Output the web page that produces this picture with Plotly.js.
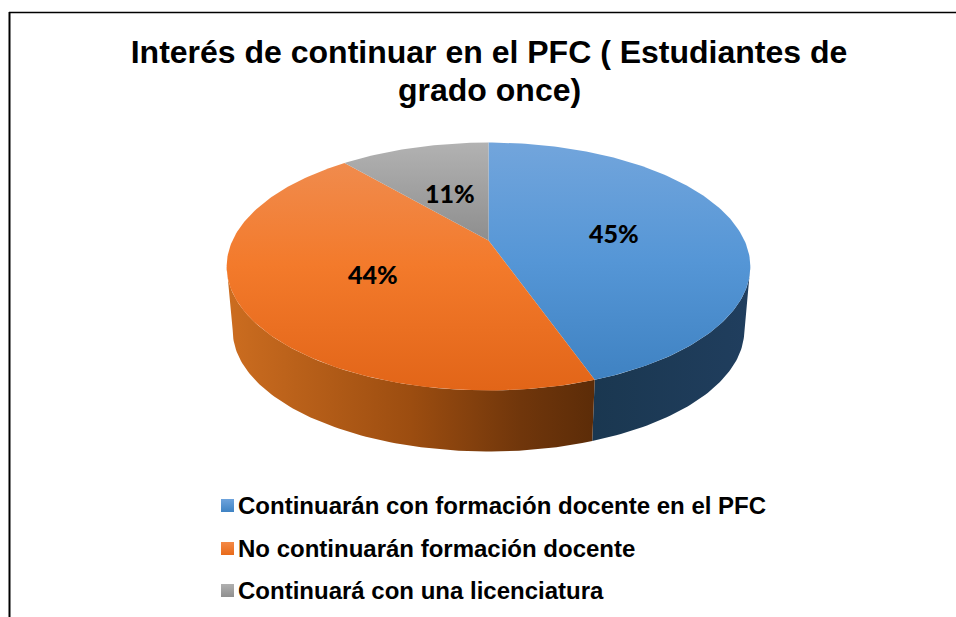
<!DOCTYPE html>
<html>
<head>
<meta charset="utf-8">
<script src="https://cdn.plot.ly/plotly-3.0.1.min.js"></script>
<style>html,body{margin:0;padding:0;background:#fff}#chart{width:956px;height:617px}</style>
</head>
<body>
<div id="chart"></div>
<script>
// Data
var categories = ["Continuarán con formación docente en el PFC", "No continuarán formación docente", "Continuará con una licenciatura"];
var values = [44.6, 44.1, 11.3];
var titleLine1 = "Interés de continuar en el PFC ( Estudiantes de";
var titleLine2 = "grado once)";

// Styles (top faces: first stop is the lower edge)
var topGradients = [
  [[0, "#3f82c2"], [0.5, "#5596d6"], [1, "#72a5dc"]],
  [[0, "#e26518"], [0.55, "#f37a2b"], [1, "#f08b4d"]],
  [[0, "#8e8e8e"], [1, "#b2b2b2"]]
];
var sideGradients = [
  [[0, "#1a3750"], [1, "#203e5e"]],
  [[0, "#cc6d20"], [0.5, "#9c4d10"], [0.8, "#70360b"], [1, "#5c2c08"]]
];
var swatchColors = [["#6ea3dc", "#3f83c3"], ["#f48a46", "#e86a1a"], ["#b0b0b0", "#8f8f8f"]];

// Projection of the disc onto the page (perspective view)
var CX = 488.5, CY = 240.5, A = 118.5, B = 256, K = 0.2097;
var SHRINK = 0.977, DROP = 64.5;
var SIL_R = 102, SIL_L = 258;

function project(deg, r, base) {
  var t = deg * Math.PI / 180;
  var u = r * Math.sin(t), v = -r * Math.cos(t);
  var d = 1 - K * v;
  var x = B * u / d, y = A * v / d;
  if (base) { x *= SHRINK; y = y * SHRINK + DROP; }
  return [CX + x, CY + y];
}
var total = values.reduce(function (a, b) { return a + b; }, 0);
var bounds = [0];
values.forEach(function (v, i) { bounds.push(bounds[i] + v / total * 360); });

function arc(a0, a1, base) {
  var pts = [], n = Math.ceil(Math.abs(a1 - a0));
  for (var i = 0; i <= n; i++) pts.push(project(a0 + (a1 - a0) * i / n, 1, base));
  return pts;
}
function polyTrace(pts, scale, type, name) {
  return {
    type: "scatter", mode: "lines", name: name,
    x: pts.map(function (p) { return p[0]; }).concat([pts[0][0]]),
    y: pts.map(function (p) { return p[1]; }).concat([pts[0][1]]),
    fill: "toself", line: { width: 0 },
    fillgradient: { type: type, colorscale: scale },
    hoverinfo: "skip", showlegend: false
  };
}

var traces = [];
// side walls
var blueSide = arc(SIL_R, bounds[1], false).concat(arc(bounds[1], SIL_R, true));
var orangeSide = arc(bounds[1], SIL_L, false).concat(arc(SIL_L, bounds[1], true));
traces.push(polyTrace(blueSide, sideGradients[0], "horizontal", categories[0] + " lado"));
traces.push(polyTrace(orangeSide, sideGradients[1], "horizontal", categories[1] + " lado"));
// top faces
values.forEach(function (v, i) {
  var pts = [project(0, 0, false)].concat(arc(bounds[i], bounds[i + 1], false));
  traces.push(polyTrace(pts, topGradients[i], "vertical", categories[i]));
});
// legend swatches
var legendY = [505.5, 548.5, 590.5];
categories.forEach(function (c, i) {
  traces.push({
    type: "scatter", mode: "markers", x: [227.5], y: [legendY[i]], name: c,
    marker: { symbol: "square", size: 13, color: swatchColors[i][0], line: { width: 0 },
      gradient: { type: "vertical", color: swatchColors[i][1] } },
    hoverinfo: "skip", showlegend: false
  });
});

// annotations
var labelPos = [[613.5, 233], [373, 274], [449.5, 193]];
var annotations = values.map(function (v, i) {
  return { x: labelPos[i][0], y: labelPos[i][1], xref: "x", yref: "y", showarrow: false,
    text: Math.round(v) + "%", font: { family: "Lato, sans-serif", size: 25, color: "#000", weight: 900 } };
});
categories.forEach(function (c, i) {
  annotations.push({ x: 236, y: legendY[i], xref: "x", yref: "y", xanchor: "left", showarrow: false,
    text: "<b>" + c + "</b>", font: { family: "Liberation Sans, Arial, sans-serif", size: 24, color: "#000" } });
});
annotations.push({ x: 489, y: 90, xref: "x", yref: "y", showarrow: false,
  text: "<b>" + titleLine2 + "</b>", font: { family: "Liberation Sans, Arial, sans-serif", size: 32, color: "#000" } });

var layout = {
  width: 956, height: 617, margin: { l: 0, r: 0, t: 0, b: 0 },
  paper_bgcolor: "#fff", plot_bgcolor: "#fff", showlegend: false,
  title: { text: "<b>" + titleLine1 + "</b>", x: 489 / 956, xanchor: "center", y: 1 - 52 / 617, yanchor: "middle",
    font: { family: "Liberation Sans, Arial, sans-serif", size: 32, color: "#000" } },
  xaxis: { range: [0, 956], visible: false, fixedrange: true },
  yaxis: { range: [617, 0], visible: false, fixedrange: true },
  annotations: annotations,
  shapes: [
    { type: "line", xref: "x", yref: "y", x0: 9, x1: 956, y0: 12.5, y1: 12.5, line: { color: "#000", width: 1.5 } },
    { type: "line", xref: "x", yref: "y", x0: 9.5, x1: 9.5, y0: 12, y1: 617, line: { color: "#000", width: 2 } }
  ]
};
Plotly.newPlot("chart", traces, layout, { displayModeBar: false, staticPlot: true });
</script>
</body>
</html>
